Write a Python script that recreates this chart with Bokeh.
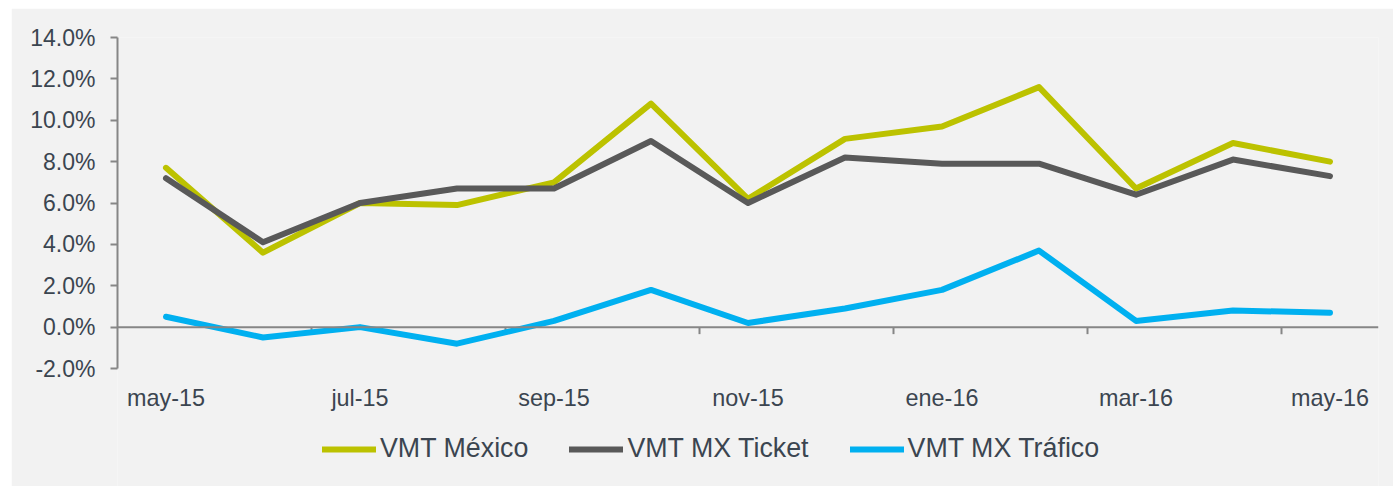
from bokeh.plotting import figure
from bokeh.models import (Range1d, LinearAxis, FixedTicker, PrintfTickFormatter,
                          Legend, LegendItem, Span)
from bokeh.embed import file_html
from bokeh.resources import INLINE

months = ["may-15", "jun-15", "jul-15", "ago-15", "sep-15", "oct-15", "nov-15",
          "dic-15", "ene-16", "feb-16", "mar-16", "abr-16", "may-16"]
vmt_mexico = [7.7, 3.6, 6.0, 5.9, 7.0, 10.8, 6.2, 9.1, 9.7, 11.6, 6.7, 8.9, 8.0]
vmt_ticket = [7.2, 4.1, 6.0, 6.7, 6.7, 9.0, 6.0, 8.2, 7.9, 7.9, 6.4, 8.1, 7.3]
vmt_trafico = [0.5, -0.5, 0.0, -0.8, 0.3, 1.8, 0.2, 0.9, 1.8, 3.7, 0.3, 0.8, 0.7]
series_names = ["VMT México", "VMT MX Ticket", "VMT MX Tráfico"]
series_colors = ["#BCC200", "#595959", "#00B0F0"]
y_ticks = [-2, 0, 2, 4, 6, 8, 10, 12, 14]

FONT = "Liberation Sans"
TXT = "#3B4550"
AX = "#868686"

# layout (figure pixels)
W, H = 1382, 478
TOP, LEFT, RIGHT = 29, 106, 15
AXIS_BOTTOM = 360           # pixel row of the -2% end of the value axis
LABEL_ROW = 402             # pixel row of the bottom of the category labels
LEGEND_CENTER = 441         # pixel row of the legend centre

xs = list(range(len(months)))
Y0, Y1 = -2, 14
ppu = (AXIS_BOTTOM - TOP) / (Y1 - Y0)
y_min = Y0 - (H - AXIS_BOTTOM) / ppu

p = figure(width=W, height=H, output_backend="svg", toolbar_location=None,
           x_range=Range1d(-0.5, len(months) - 0.5), y_range=Range1d(y_min, Y1),
           min_border_left=LEFT, min_border_right=RIGHT, min_border_top=TOP,
           min_border_bottom=0, x_axis_location=None, y_axis_location=None)
p.margin = (8, 0, 0, 11)
p.background_fill_color = "#F2F2F2"
p.border_fill_color = "#F2F2F2"
p.outline_line_color = None
p.grid.visible = False

# y axis
yax = LinearAxis(ticker=FixedTicker(ticks=y_ticks), bounds=(Y0, Y1),
                 formatter=PrintfTickFormatter(format="%.1f%%"))
yax.axis_line_color = AX
yax.axis_line_width = 2
yax.major_tick_line_color = AX
yax.major_tick_line_width = 2
yax.major_tick_out = 7
yax.major_tick_in = 0
yax.minor_tick_line_color = None
yax.major_label_standoff = 15
yax.major_label_text_font = FONT
yax.major_label_text_font_size = "23px"
yax.major_label_text_color = TXT
p.add_layout(yax, "left")

# zero line with boundary ticks every two categories
p.add_layout(Span(location=0, dimension="width", line_color=AX, line_width=2))
boundaries = [i + 1.5 for i in range(0, len(months) - 1, 2)]
tick_len = 7 / ppu
p.segment(x0=boundaries, y0=[0] * len(boundaries), x1=boundaries,
          y1=[-tick_len] * len(boundaries), line_color=AX, line_width=2)

# category labels below the plot
label_ticks = list(range(0, len(months), 2))
lax = LinearAxis(ticker=FixedTicker(ticks=label_ticks),
                 fixed_location=Y0 - (LABEL_ROW - AXIS_BOTTOM) / ppu,
                 major_label_overrides={i: months[i] for i in label_ticks})
lax.axis_line_color = None
lax.major_tick_line_color = None
lax.minor_tick_line_color = None
lax.major_tick_out = 0
lax.major_tick_in = 0
lax.major_label_standoff = 0
lax.major_label_text_font = FONT
lax.major_label_text_font_size = "23.4px"
lax.major_label_text_color = TXT
p.add_layout(lax, "above")

items = []
for name, col, vals in zip(series_names, series_colors,
                           [vmt_mexico, vmt_ticket, vmt_trafico]):
    r = p.line(xs, vals, line_color=col, line_width=6, line_cap="round",
               line_join="round")
    items.append(LegendItem(label=name, renderers=[r]))

legend = Legend(items=items, orientation="horizontal",
                location=(205, H - LEGEND_CENTER - 15),
                glyph_width=54, glyph_height=30, label_height=30,
                label_standoff=4, spacing=41, padding=0, margin=0,
                label_text_font=FONT, label_text_font_size="26.8px",
                label_text_color=TXT, background_fill_alpha=0,
                border_line_alpha=0)
p.add_layout(legend, "center")

open("out.html", "w").write(file_html(p, INLINE))
